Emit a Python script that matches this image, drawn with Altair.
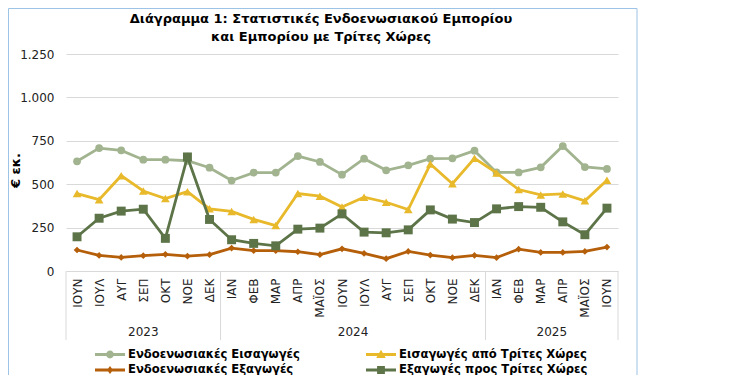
import altair as alt
import pandas as pd

months = ["ΙΟΥΝ", "ΙΟΥΛ", "ΑΥΓ", "ΣΕΠ", "ΟΚΤ", "ΝΟΕ", "ΔΕΚ",
          "ΙΑΝ", "ΦΕΒ", "ΜΑΡ", "ΑΠΡ", "ΜΑΪΟΣ", "ΙΟΥΝ", "ΙΟΥΛ", "ΑΥΓ", "ΣΕΠ", "ΟΚΤ", "ΝΟΕ", "ΔΕΚ",
          "ΙΑΝ", "ΦΕΒ", "ΜΑΡ", "ΑΠΡ", "ΜΑΪΟΣ", "ΙΟΥΝ"]
years = ["2023"] * 7 + ["2024"] * 12 + ["2025"] * 6

eu_imports = [632, 708, 695, 641, 641, 635, 595, 521, 567, 567, 662, 628, 555,
              647, 580, 609, 647, 649, 693, 568, 568, 597, 720, 599, 588]
third_imports = [446, 411, 549, 461, 417, 457, 358, 343, 297, 262, 446, 431, 369,
                 425, 396, 354, 616, 503, 649, 565, 469, 438, 444, 404, 523]
eu_exports = [121, 90, 78, 88, 96, 86, 94, 132, 117, 117, 111, 94, 128,
              101, 71, 113, 92, 77, 90, 77, 126, 107, 107, 113, 138]
third_exports = [197, 304, 345, 356, 188, 657, 297, 180, 159, 145, 241, 247, 329,
                 224, 220, 237, 352, 299, 279, 358, 371, 367, 283, 209, 362]

series_names = ["Ενδοενωσιακές Εισαγωγές", "Εισαγωγές από Τρίτες Χώρες",
                "Ενδοενωσιακές Εξαγωγές", "Εξαγωγές προς Τρίτες Χώρες"]
series_values = [eu_imports, third_imports, eu_exports, third_exports]
colors = ["#a1b48f", "#e8b92a", "#b55f0a", "#5c7448"]
shapes = ["circle", "triangle-up", "diamond", "square"]
sizes = [60, 75, 45, 80]
# legend order (filled column by column): col 1 = EU imports/exports, col 2 = third countries
legend_order = [0, 2, 1, 3]

title_lines = ["Διάγραμμα 1: Στατιστικές Ενδοενωσιακού Εμπορίου",
               "και Εμπορίου με Τρίτες Χώρες"]
y_title = "€ εκ."
y_ticks = [0, 250, 500, 750, 1000, 1250]

FONT = "DejaVu Sans"
W, H = 552, 217

rows = []
for name, vals in zip(series_names, series_values):
    for i, v in enumerate(vals):
        rows.append({"series": name, "idx": i, "value": v})
df = pd.DataFrame(rows)

# year groups
groups = []
start = 0
for i in range(1, len(years) + 1):
    if i == len(years) or years[i] != years[start]:
        groups.append((years[start], start, i - 1))
        start = i
year_df = pd.DataFrame([{"year": y, "center": (s + e) / 2} for y, s, e in groups])
bounds = [s - 0.5 for _, s, _ in groups] + [groups[-1][2] + 0.5]
bound_df = pd.DataFrame({"b": bounds})

month_js = "[" + ",".join("'" + m + "'" for m in months) + "]"

xscale = alt.Scale(domain=[-0.5, len(months) - 0.5], nice=False, zero=False)
yscale = alt.Scale(domain=[0, 1250], nice=False)

x_axis = alt.Axis(values=list(range(len(months))), labelExpr=month_js + "[datum.value]",
                  labelAngle=-90, labelFont=FONT, labelFontSize=12, labelColor="#222",
                  labelPadding=7, ticks=False, domain=False, grid=False, title=None,
                  labelOverlap=False, labelBound=False, labelFlush=False)
y_axis = alt.Axis(values=y_ticks, labelExpr="replace(format(datum.value, ','), ',', '.')",
                  labelFont=FONT, labelFontSize=12, labelColor="#222", labelPadding=12,
                  ticks=False, domain=False, gridColor="#d9d9d9", gridWidth=1,
                  title=y_title, titleFont=FONT, titleFontSize=13, titleFontWeight="bold",
                  titleColor="#000", titleAngle=-90, titleX=-51, titleY=116,
                  titleAlign="center", titleBaseline="middle")
x_enc = alt.X("idx:Q", scale=xscale, axis=x_axis)
y_enc = alt.Y("value:Q", scale=yscale, axis=y_axis)

base = alt.Chart(df)
layers = []
for name, col, shp, sz in zip(series_names, colors, shapes, sizes):
    sub = base.transform_filter(alt.datum.series == name)
    layers.append(sub.mark_line(strokeWidth=2.8, color=col).encode(x=x_enc, y=y_enc))
    layers.append(sub.mark_point(filled=True, shape=shp, size=sz, opacity=1, color=col)
                  .encode(x=x_enc, y=y_enc))

# legend symbols: line segment with marker
line_part = "M-1,-0.1 H1 V0.1 H-1 Z "
legend_paths = [
    line_part + "M-0.26,0 A0.26,0.26 0 1,1 0.26,0 A0.26,0.26 0 1,1 -0.26,0 Z",
    line_part + "M0,-0.32 L0.32,0.24 L-0.32,0.24 Z",
    line_part + "M0,-0.27 L0.2,0 L0,0.27 L-0.2,0 Z",
    line_part + "M-0.26,-0.26 H0.26 V0.26 H-0.26 Z",
]
leg_domain = [series_names[i] for i in legend_order]
leg_colors = [colors[i] for i in legend_order]
leg_paths = [legend_paths[i] for i in legend_order]

# legend carrier: invisible points (opacity 0), legend symbols stay opaque
legend_layer = base.transform_filter(alt.datum.idx == 0).mark_point(filled=True).encode(
    x=x_enc, y=y_enc,
    opacity=alt.condition("false", alt.value(1), alt.value(0)),
    color=alt.Color("series:N", scale=alt.Scale(domain=leg_domain, range=leg_colors),
                    legend=alt.Legend(orient="none", legendX=29, legendY=294, columns=2,
                                      direction="vertical",
                                      columnPadding=66, rowPadding=2.5, padding=0,
                                      clipHeight=13, symbolSize=900, symbolOpacity=1,
                                      symbolStrokeWidth=0, labelFont=FONT, labelFontSize=11.6,
                                      labelFontWeight="bold", labelColor="#000", labelOffset=3,
                                      title=None, labelLimit=400)),
    shape=alt.Shape("series:N", scale=alt.Scale(domain=leg_domain, range=leg_paths)),
)

sep = alt.Chart(bound_df).mark_rule(color="#d9d9d9", strokeWidth=1).encode(
    x=alt.X("b:Q", scale=xscale, axis=x_axis), y=alt.value(H), y2=alt.value(H + 69))

year_text = alt.Chart(year_df).mark_text(font=FONT, fontSize=12, color="#222",
                                         baseline="middle", align="center").encode(
    x=alt.X("center:Q", scale=xscale, axis=x_axis), y=alt.value(H + 61), text="year:N")

frame = alt.Chart(pd.DataFrame({"a": [0]})).mark_rect(
    fill=None, stroke="#9dc3e6", strokeWidth=1).encode(
    x=alt.value(-57.5), x2=alt.value(571), y=alt.value(-45.5), y2=alt.value(324))

chart = alt.layer(*layers, frame, sep, year_text, legend_layer).properties(
    width=W, height=H,
    padding={"left": 58, "top": 46, "right": 100, "bottom": 104},
    autosize=alt.AutoSizeParams(type="none"),
    title=alt.TitleParams(text=title_lines, font=FONT, fontSize=13, fontWeight="bold",
                          color="#000", anchor="middle", dx=-21, dy=48, offset=12, lineHeight=18),
).configure_view(stroke=None)

chart.save("out.html", embed_options={"renderer": "svg", "actions": False})
